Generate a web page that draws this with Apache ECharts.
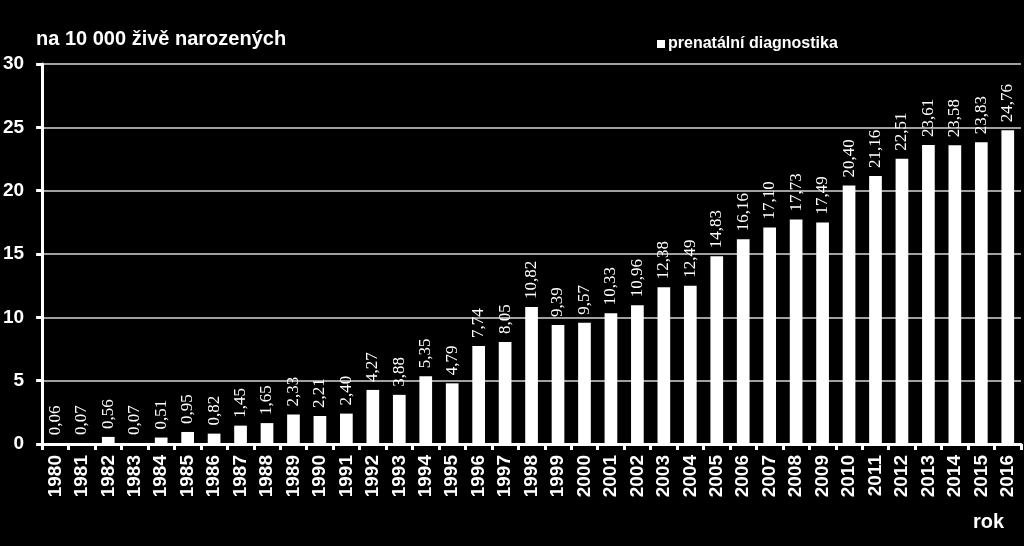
<!DOCTYPE html>
<html><head><meta charset="utf-8">
<script src="https://cdn.jsdelivr.net/npm/echarts@6/dist/echarts.min.js"></script>
<style>html,body{margin:0;padding:0;background:#000;}#c{width:1024px;height:546px;}</style>
</head><body><div id="c"></div>
<script>
const years = ['1980','1981','1982','1983','1984','1985','1986','1987','1988','1989','1990','1991','1992','1993','1994','1995','1996','1997','1998','1999','2000','2001','2002','2003','2004','2005','2006','2007','2008','2009','2010','2011','2012','2013','2014','2015','2016'];
const values = [0.06,0.07,0.56,0.07,0.51,0.95,0.82,1.45,1.65,2.33,2.21,2.40,4.27,3.88,5.35,4.79,7.74,8.05,10.82,9.39,9.57,10.33,10.96,12.38,12.49,14.83,16.16,17.10,17.73,17.49,20.40,21.16,22.51,23.61,23.58,23.83,24.76];
const yTicks = [0,5,10,15,20,25,30];
const chart = echarts.init(document.getElementById('c'));
chart.setOption({
  backgroundColor:'#000',
  animation:false,
  title:{text:'na 10 000 živě narozených', left:31, top:24, textStyle:{color:'#fff',fontFamily:'Liberation Sans, Arial, sans-serif',fontWeight:'bold',fontSize:20}},
  legend:{data:['prenatální diagnostika'], left:652, top:31, itemWidth:8, itemHeight:8, itemGap:4, icon:'rect',
    textStyle:{color:'#fff',fontFamily:'Liberation Sans, Arial, sans-serif',fontWeight:'bold',fontSize:16, padding:[0,0,0,-2]}},
  graphic:[{type:'text', left:973, top:512, style:{text:'rok', fill:'#fff', font:'bold 20px Liberation Sans, Arial, sans-serif'}}],
  grid:{left:42, right:3, top:64, bottom:102, containLabel:false},
  xAxis:{type:'category', data:years,
    axisLine:{lineStyle:{color:'#fff',width:3}},
    axisTick:{show:true, alignWithLabel:false, length:6, lineStyle:{color:'#fff',width:3}},
    axisLabel:{rotate:90, color:'#fff', fontFamily:'Liberation Sans, Arial, sans-serif', fontWeight:'bold', fontSize:19, margin:11, interval:0}},
  yAxis:{type:'value', min:0, max:30, interval:5,
    axisLine:{show:true, lineStyle:{color:'#fff',width:3}},
    axisTick:{show:true, length:6, lineStyle:{color:'#fff',width:3}},
    splitLine:{lineStyle:{color:'#a0a0a0',width:2}},
    axisLabel:{color:'#fff', fontFamily:'Liberation Sans, Arial, sans-serif', fontWeight:'bold', fontSize:19, margin:18,
      formatter:v=>yTicks.includes(v)?String(v):''}},
  series:[{name:'prenatální diagnostika', type:'bar', data:values, barCategoryGap:'52%',
    itemStyle:{color:'#fff'},
    label:{show:true, position:'top', rotate:90, align:'left', verticalAlign:'middle', distance:8, color:'#fff',
      fontFamily:'Liberation Serif, Times New Roman, serif', fontSize:17,
      formatter:p=>p.value.toFixed(2).replace('.',',')}}]
});
</script></body></html>
